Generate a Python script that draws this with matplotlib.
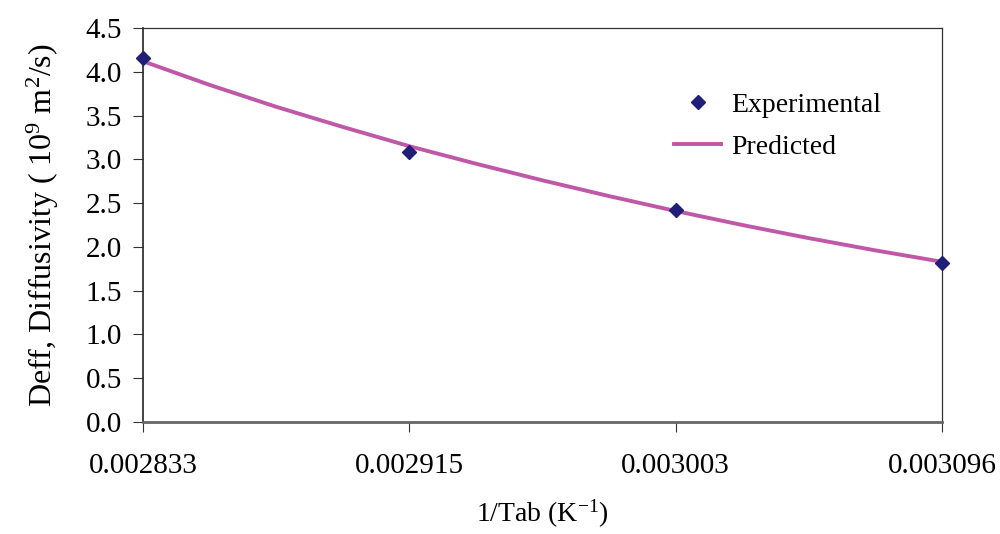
import matplotlib.pyplot as plt

plt.rcParams['font.family'] = ['Liberation Serif', 'DejaVu Serif']
plt.rcParams['mathtext.fontset'] = 'custom'
plt.rcParams['mathtext.rm'] = 'Liberation Serif'

# x axis is a category axis (evenly spaced labels)
tick_labels = ['0.002833', '0.002915', '0.003003', '0.003096']
exp_pos = [0, 1, 2, 3]
exp_deff = [4.16, 3.08, 2.42, 1.82]

# predicted curve at quarter steps
pred_pos = [0, 0.25, 0.5, 0.75, 1, 1.25, 1.5, 1.75, 2, 2.25, 2.5, 2.75, 3]
pred_deff = [4.12, 3.85, 3.60, 3.37, 3.15, 2.95, 2.76, 2.58, 2.41, 2.25, 2.10, 1.96, 1.83]

fig = plt.figure(figsize=(10, 5.34), dpi=100)
ax = fig.add_axes([0.143, 0.2097, 0.799, 0.7379])

ax.plot(pred_pos, pred_deff, color='#C058A8', lw=2.8, label='Predicted', zorder=2)
ax.plot(exp_pos, exp_deff, ls='none', marker='D', ms=7.5, color='#1F1F78',
        label='Experimental', clip_on=False, zorder=3)

ax.set_xlim(0, 3)
ax.set_ylim(0, 4.5)
ax.set_xticks(exp_pos)
ax.set_xticklabels(tick_labels)
ax.set_yticks([i * 0.5 for i in range(10)])
ax.set_yticklabels(['%.1f' % (i * 0.5) for i in range(10)])
ax.tick_params(axis='both', labelsize=21, direction='out', length=7, color='#333333')
ax.tick_params(axis='x', pad=15)
ax.tick_params(axis='y', pad=8)

for s in ['top', 'right']:
    ax.spines[s].set_color('#333333')
    ax.spines[s].set_linewidth(0.9)
ax.spines['left'].set_color('#222222')
ax.spines['left'].set_linewidth(1.2)
ax.spines['bottom'].set_color('#666666')
ax.spines['bottom'].set_linewidth(2)

ax.set_xlabel('1/Tab (K$\\mathregular{^{-1}}$)', fontsize=20, labelpad=14)
ax.set_ylabel('Deff, Diffusivity ( 10$\\mathregular{^{9}}$ m$\\mathregular{^{2}}$/s)', fontsize=23, labelpad=18)

handles, labels = ax.get_legend_handles_labels()
ax.legend(handles[::-1], labels[::-1], loc='upper right', bbox_to_anchor=(0.955, 0.9),
          frameon=False, fontsize=20, handlelength=1.7, handletextpad=0.35, labelspacing=0.6)

plt.savefig('out.png', dpi=100)
